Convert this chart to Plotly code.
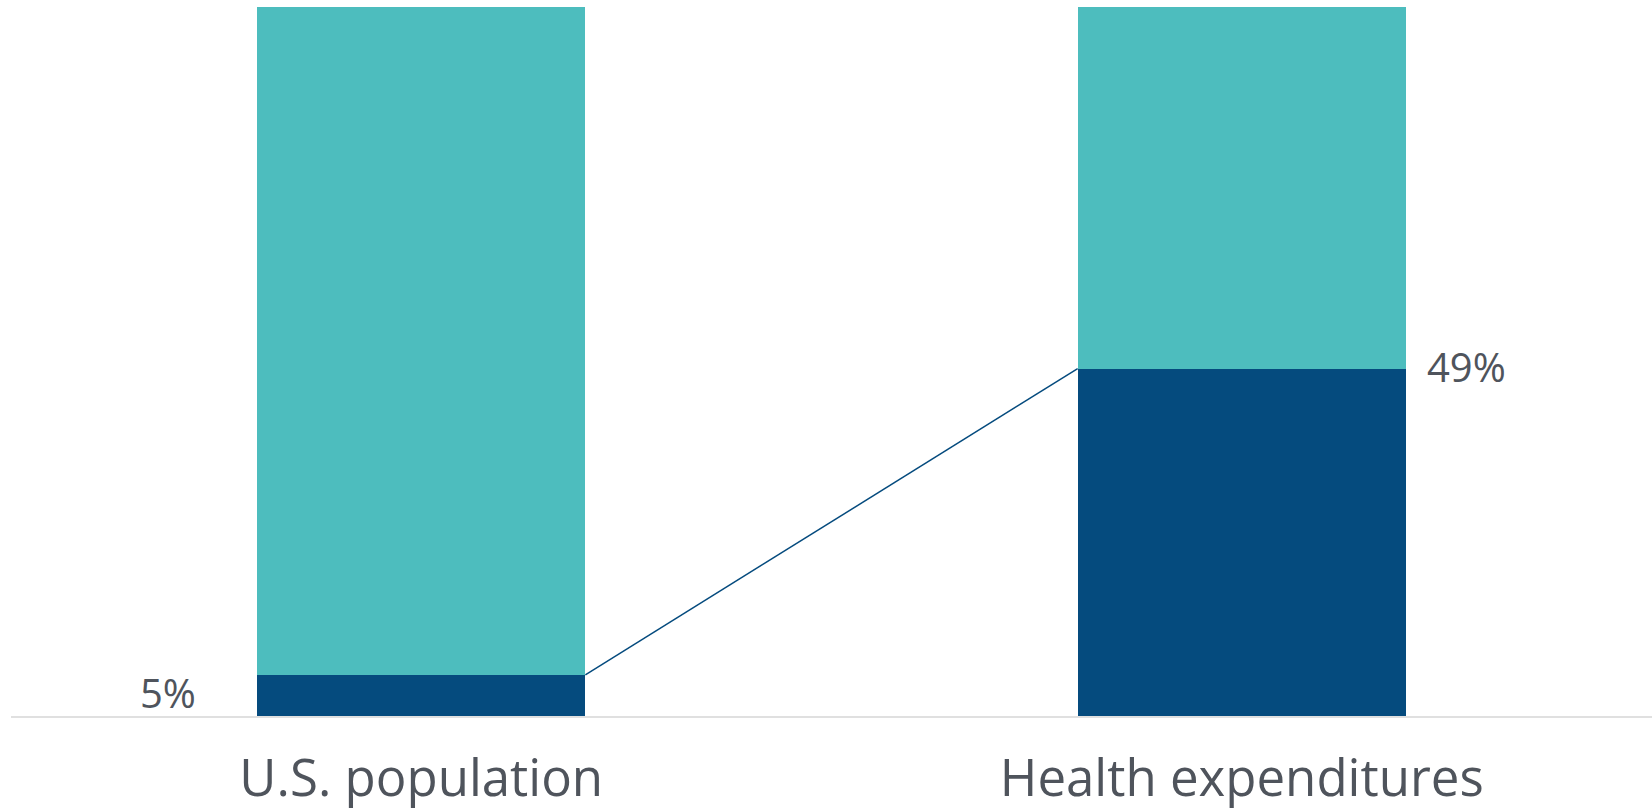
import plotly.graph_objects as go

categories = ["U.S. population", "Health expenditures"]
top_share = [5.8, 49.0]          # dark segment (share of top spenders)
rest_share = [94.2, 51.0]        # remaining share
pct_labels = ["5%", "49%"]

x_pos = list(range(len(categories)))
bar_w = 0.4
teal = "#4DBDBE"
navy = "#054B7E"
txt = "#4F545C"

fig = go.Figure()
fig.add_trace(go.Bar(x=x_pos, y=top_share, width=bar_w, marker=dict(color=navy, line=dict(width=0)),
                     hoverinfo="skip"))
fig.add_trace(go.Bar(x=x_pos, y=rest_share, width=bar_w, marker=dict(color=teal, line=dict(width=0)),
                     hoverinfo="skip"))
# connector line: top-right of first dark segment to top-left of second
fig.add_trace(go.Scatter(x=[x_pos[0] + bar_w / 2, x_pos[1] - bar_w / 2], y=top_share,
                         mode="lines", line=dict(color=navy, width=1.5), hoverinfo="skip"))

fig.add_annotation(x=x_pos[0] - bar_w / 2, y=top_share[0] / 2, text=pct_labels[0], showarrow=False,
                   xanchor="right", yanchor="middle", xshift=-59, yshift=3,
                   font=dict(size=40, color=txt, family="Open Sans"))
fig.add_annotation(x=x_pos[1] + bar_w / 2, y=top_share[1], text=pct_labels[1], showarrow=False,
                   xanchor="left", yanchor="middle", xshift=19, yshift=2,
                   font=dict(size=40, color=txt, family="Open Sans"))

fig.update_layout(
    barmode="stack", showlegend=False, width=1652, height=810,
    margin=dict(l=11, r=0, t=7, b=94),
    paper_bgcolor="white", plot_bgcolor="white",
    xaxis=dict(range=[-0.5, 1.5], tickvals=x_pos, ticktext=categories, showgrid=False, zeroline=False,
               showline=True, linecolor="#E0E0E0", linewidth=2, ticks="", ticklabelstandoff=17,
               automargin=False,
               tickfont=dict(size=51, color=txt, family="Open Sans")),
    yaxis=dict(range=[0, 100], visible=False, showgrid=False, zeroline=False, automargin=False),
)
fig.write_html("out.html")
